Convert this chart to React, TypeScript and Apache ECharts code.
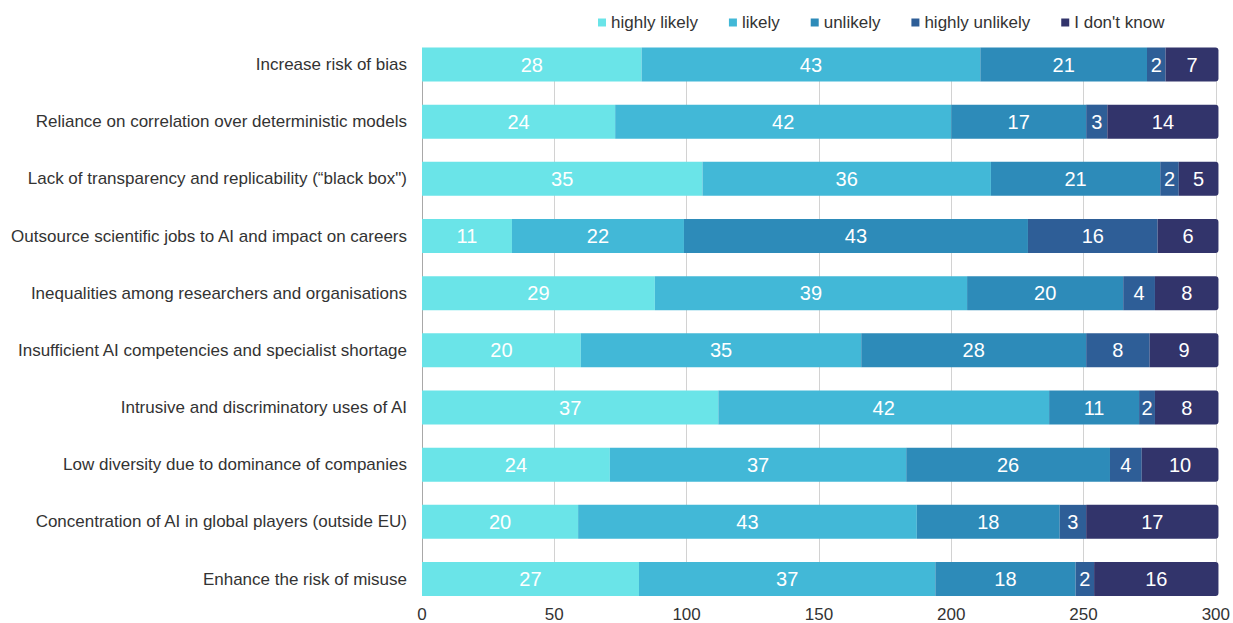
import React, { useEffect, useRef } from "react";
import * as echarts from "echarts";

const categories = [
  "Increase risk of bias",
  "Reliance on correlation over deterministic models",
  "Lack of transparency and replicability (\u201cblack box\")",
  "Outsource scientific jobs to AI and impact on careers",
  "Inequalities among researchers and organisations",
  "Insufficient AI competencies and specialist shortage",
  "Intrusive and discriminatory uses of AI",
  "Low diversity due to dominance of companies",
  "Concentration of AI in global players (outside EU)",
  "Enhance the risk of misuse",
];

const seriesNames = ["highly likely", "likely", "unlikely", "highly unlikely", "I don't know"];

// counts (bar lengths)
const highlyLikely = [83, 73, 106, 34, 88, 60, 112, 71, 59, 82];
const likely = [128, 127, 109, 65, 118, 106, 125, 112, 128, 112];
const unlikely = [63, 51, 64, 130, 59, 85, 34, 77, 54, 53];
const highlyUnlikely = [7, 8, 7, 49, 12, 24, 6, 12, 10, 7];
const dontKnow = [20, 42, 15, 23, 24, 26, 24, 29, 50, 47];

// percentage labels shown on the segments
const highlyLikelyPct = [28, 24, 35, 11, 29, 20, 37, 24, 20, 27];
const likelyPct = [43, 42, 36, 22, 39, 35, 42, 37, 43, 37];
const unlikelyPct = [21, 17, 21, 43, 20, 28, 11, 26, 18, 18];
const highlyUnlikelyPct = [2, 3, 2, 16, 4, 8, 2, 4, 3, 2];
const dontKnowPct = [7, 14, 5, 6, 8, 9, 8, 10, 17, 16];

const xTicks = [0, 50, 100, 150, 200, 250, 300];

const colors = ["#6AE4E8", "#42B8D7", "#2D8BB9", "#2E5E97", "#32346B"];

const FONT = "'Liberation Sans', Arial, sans-serif";

export default function App() {
  const ref = useRef<HTMLDivElement>(null);

  useEffect(() => {
    if (!ref.current) return;
    const chart = echarts.init(ref.current, undefined, { renderer: "svg" });
    const values = [highlyLikely, likely, unlikely, highlyUnlikely, dontKnow];
    const pcts = [highlyLikelyPct, likelyPct, unlikelyPct, highlyUnlikelyPct, dontKnowPct];

    chart.setOption({
      animation: false,
      textStyle: { fontFamily: FONT },
      color: colors,
      legend: {
        data: seriesNames,
        left: 593,
        top: 9,
        icon: "rect",
        itemWidth: 8,
        itemHeight: 8,
        itemGap: 31,
        textStyle: { fontSize: 17, color: "#333", fontFamily: FONT },
      },
      grid: { left: 422, right: 15, top: 64.5, bottom: 41.7, containLabel: false },
      xAxis: {
        type: "value",
        min: xTicks[0],
        max: xTicks[xTicks.length - 1],
        interval: 50,
        axisLine: { show: false },
        axisTick: { show: false },
        axisLabel: { fontSize: 17, color: "#333", margin: 27, fontFamily: FONT },
        splitLine: { show: true, lineStyle: { color: "#d2d2d2", width: 1 } },
      },
      yAxis: {
        type: "category",
        data: categories,
        inverse: true,
        boundaryGap: false,
        axisLine: { show: true, lineStyle: { color: "#a8a8a8", width: 1 } },
        axisTick: { show: false },
        axisLabel: { fontSize: 17, color: "#333", margin: 15, fontFamily: FONT },
      },
      series: seriesNames.map((name, i) => ({
        name,
        type: "bar",
        stack: "total",
        barWidth: 34,
        clip: false,
        data: values[i],
        itemStyle: {
          color: colors[i],
          borderRadius: i === seriesNames.length - 1 ? [0, 3, 3, 0] : 0,
        },
        label: {
          show: true,
          position: "inside",
          color: "#fff",
          fontSize: 20,
          fontFamily: FONT,
          formatter: (p: any) => String(pcts[i][p.dataIndex]),
        },
      })),
    });

    return () => chart.dispose();
  }, []);

  return (
    <div
      ref={ref}
      style={{ position: "absolute", left: 0, top: 0, width: 1233, height: 623 }}
    />
  );
}
